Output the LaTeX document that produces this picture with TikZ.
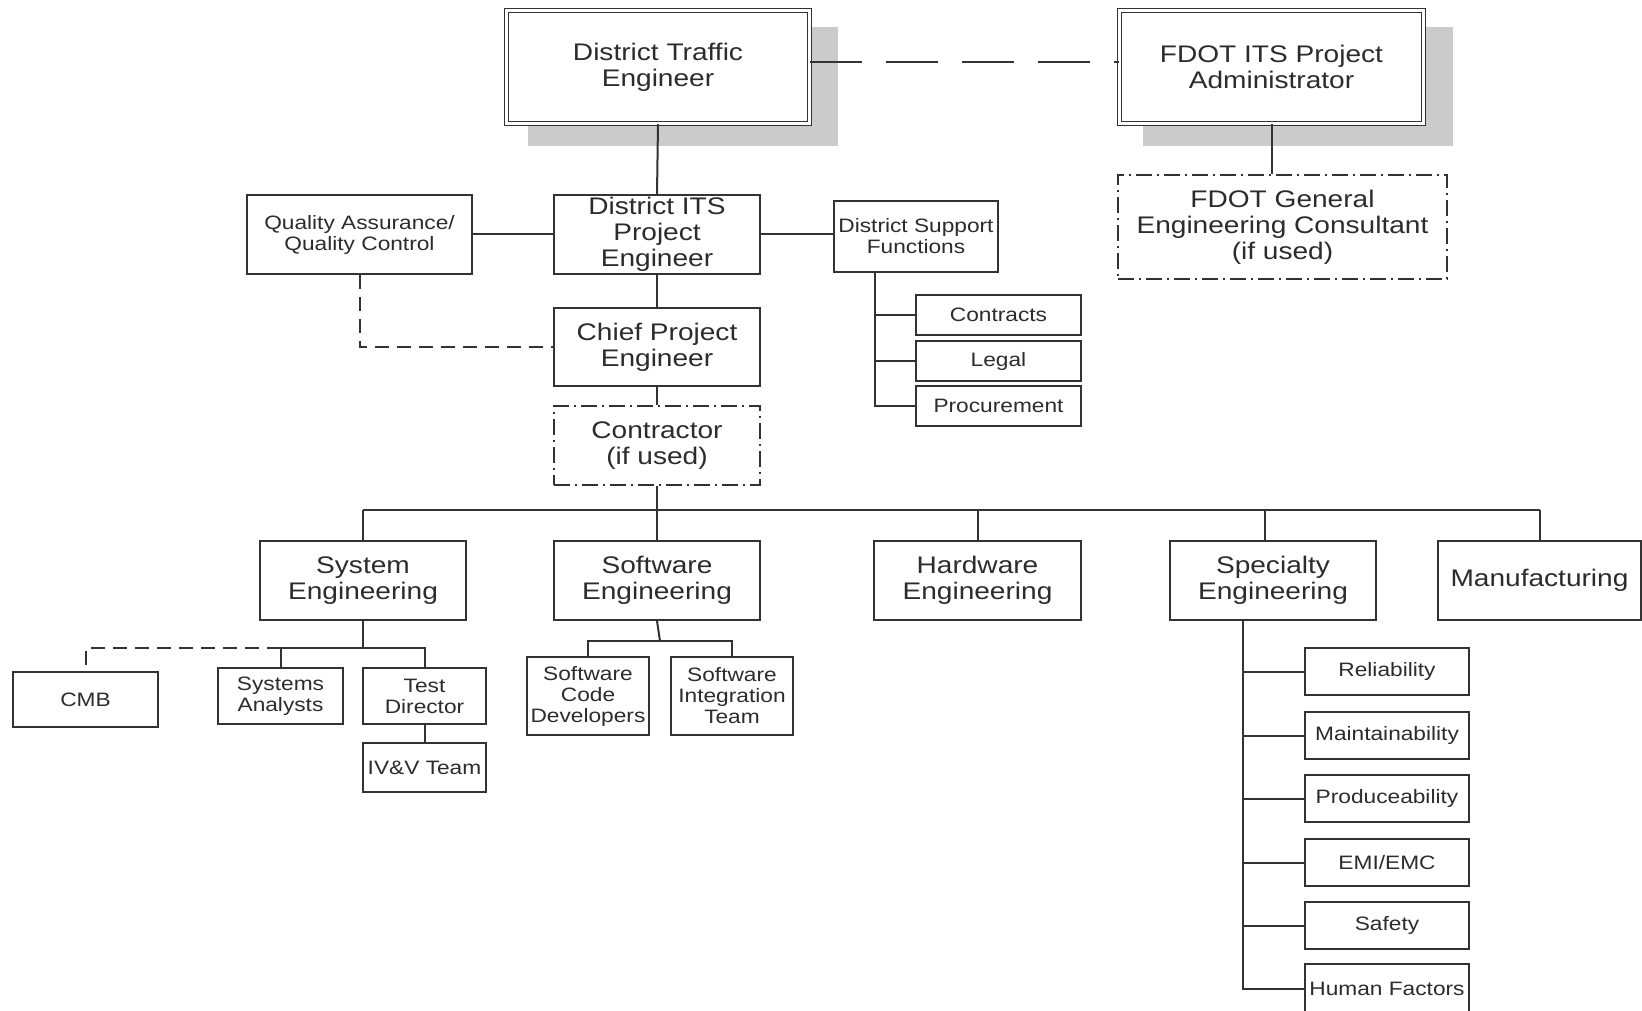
\documentclass[tikz,border=0pt]{standalone}
\usepackage{fontspec}
\newfontfamily\chartfont{Liberation Sans}[FakeStretch=1.17]
\definecolor{ink}{HTML}{333333}
\definecolor{txt}{HTML}{2C2C2C}
\definecolor{shadowgray}{HTML}{CBCBCB}
\begin{document}
\begin{tikzpicture}[x=1pt,y=-1pt,
  line width=1.8pt,
  box/.style={draw=ink, line width=1.8pt, fill=white, rectangle, inner sep=0pt,
    align=center, text=txt, font=\chartfont\fontsize{24}{26}\selectfont},
  sbox/.style={box, font=\chartfont\fontsize{19.4}{21}\selectfont},
  headbox/.style={box, double=white, double distance=2.4pt, line width=1.5pt},
  optbox/.style={box, dash pattern=on 16pt off 5pt on 2pt off 5pt},
  link/.style={draw=ink, line width=2pt},
  dlink/.style={link, dash pattern=on 14pt off 8pt},
  longdash/.style={link, dash pattern=on 52pt off 24pt}]

\useasboundingbox (0,0) rectangle (1642,1011);
\fill[white] (0,0) rectangle (1642,1011);

% drop shadows of the two head boxes
\fill[shadowgray] (528,27) rectangle (838,146);
\fill[shadowgray] (1143,27) rectangle (1453,146);

% top level
\node[headbox, minimum width=303, minimum height=113] (dte) at (658,67)
  {District Traffic\\Engineer};
\node[headbox, minimum width=304, minimum height=113] (fdot) at (1271.5,67)
  {FDOT ITS Project\\Administrator};
\node[optbox, minimum width=329, minimum height=104] (gec) at (1282.5,227)
  {FDOT General\\Engineering Consultant\\(if used)};

% district level
\node[sbox, minimum width=225, minimum height=79] (qa) at (359.5,234.5)
  {Quality Assurance/\\Quality Control};
\node[box, minimum width=206, minimum height=79] (dits) at (657,234.5)
  {District ITS\\Project\\Engineer};
\node[sbox, minimum width=164, minimum height=71] (dsf) at (916,236.5)
  {District Support\\Functions};
\node[sbox, minimum width=165, minimum height=40] (contracts) at (998.5,315) {Contracts};
\node[sbox, minimum width=165, minimum height=40] (legal) at (998.5,361) {Legal};
\node[sbox, minimum width=165, minimum height=40] (proc) at (998.5,406) {Procurement};
\node[box, minimum width=206, minimum height=78] (chief) at (657,347)
  {Chief Project\\Engineer};
\node[optbox, minimum width=206, minimum height=79] (contr) at (657,445.5)
  {Contractor\\(if used)};

% engineering disciplines
\node[box, minimum width=206, minimum height=79] (syseng) at (363,580.5)
  {System\\Engineering};
\node[box, minimum width=206, minimum height=79] (softeng) at (657,580.5)
  {Software\\Engineering};
\node[box, minimum width=207, minimum height=79] (hardeng) at (977.5,580.5)
  {Hardware\\Engineering};
\node[box, minimum width=206, minimum height=79] (speceng) at (1273,580.5)
  {Specialty\\Engineering};
\node[box, minimum width=203, minimum height=79] (manuf) at (1539.5,580.5)
  {Manufacturing};

% system engineering teams
\node[sbox, minimum width=145, minimum height=55] (cmb) at (85.5,699.5) {CMB};
\node[sbox, minimum width=125, minimum height=56] (sa) at (280.5,696)
  {Systems\\Analysts};
\node[sbox, minimum width=123, minimum height=56] (td) at (424.5,696)
  {Test\\Director};
\node[sbox, minimum width=123, minimum height=49] (ivv) at (424.5,767.5)
  {IV\&V Team};

% software teams
\node[sbox, minimum width=122, minimum height=78] (scd) at (588,696)
  {Software\\Code\\Developers};
\node[sbox, minimum width=122, minimum height=78] (sit) at (732,696)
  {Software\\Integration\\Team};

% specialty areas
\node[sbox, minimum width=164, minimum height=47] (rel)  at (1387,671.5) {Reliability};
\node[sbox, minimum width=164, minimum height=47] (mnt)  at (1387,735.5) {Maintainability};
\node[sbox, minimum width=164, minimum height=47] (prod) at (1387,798.5) {Produceability};
\node[sbox, minimum width=164, minimum height=47] (emi)  at (1387,862.5) {EMI/EMC};
\node[sbox, minimum width=164, minimum height=47] (safe) at (1387,925.5) {Safety};
\node[sbox, minimum width=164, minimum height=50] (hum)  at (1387,989)   {Human Factors};

% connectors: top
\draw[longdash] ([yshift=5pt]dte.east) -- ([yshift=5pt]fdot.west);
\draw[link] (fdot.south) -- (fdot.south |- gec.north);
\draw[link] (dte.south) -- (dits.north);
\draw[link] (qa.east) -- (dits.west);
\draw[link] (dits.east) -- (dits.east -| dsf.west);
\draw[link] (dits.south) -- (chief.north);
\draw[dlink] (qa.south) |- (chief.west);
\draw[link] (chief.south) -- (contr.north);

% support functions
\coordinate (dsftrunk) at ([xshift=-41pt]dsf.south);
\draw[link] (dsftrunk) |- (proc.west);
\draw[link] (contracts.west) -- (contracts.west -| dsftrunk);
\draw[link] (legal.west) -- (legal.west -| dsftrunk);

% bus to the disciplines
\coordinate (bus) at (0,510);
\draw[link] (contr.south) -- (contr.south |- bus);
\draw[link] (syseng.north |- bus) -- (manuf.north |- bus);
\foreach \n in {syseng,softeng,hardeng,manuf}
  \draw[link] (\n.north) -- (\n.north |- bus);
\draw[link] ([xshift=-8pt]speceng.north) -- ([xshift=-8pt]speceng.north |- bus);

% system engineering branch
\coordinate (sysbus) at (0,648);
\draw[link] (syseng.south) -- (syseng.south |- sysbus);
\draw[link] (sa.north) -- (sa.north |- sysbus) -- (td.north |- sysbus) -- (td.north);
\draw[dlink] (sa.north |- sysbus) -- (cmb.north |- sysbus) -- (cmb.north);
\draw[link] (td.south) -- (ivv.north);

% software branch
\coordinate (swbus) at (0,641);
\draw[link] (softeng.south) -- ([xshift=3pt]softeng.south |- swbus);
\draw[link] (scd.north) -- (scd.north |- swbus) -- (sit.north |- swbus) -- (sit.north);

% specialty branch
\coordinate (sptrunk) at ([xshift=-30pt]speceng.south);
\draw[link] (sptrunk) |- (hum.west);
\foreach \n in {rel,mnt,prod,emi,safe}
  \draw[link] (\n.west) -- (\n.west -| sptrunk);
\end{tikzpicture}
\end{document}
